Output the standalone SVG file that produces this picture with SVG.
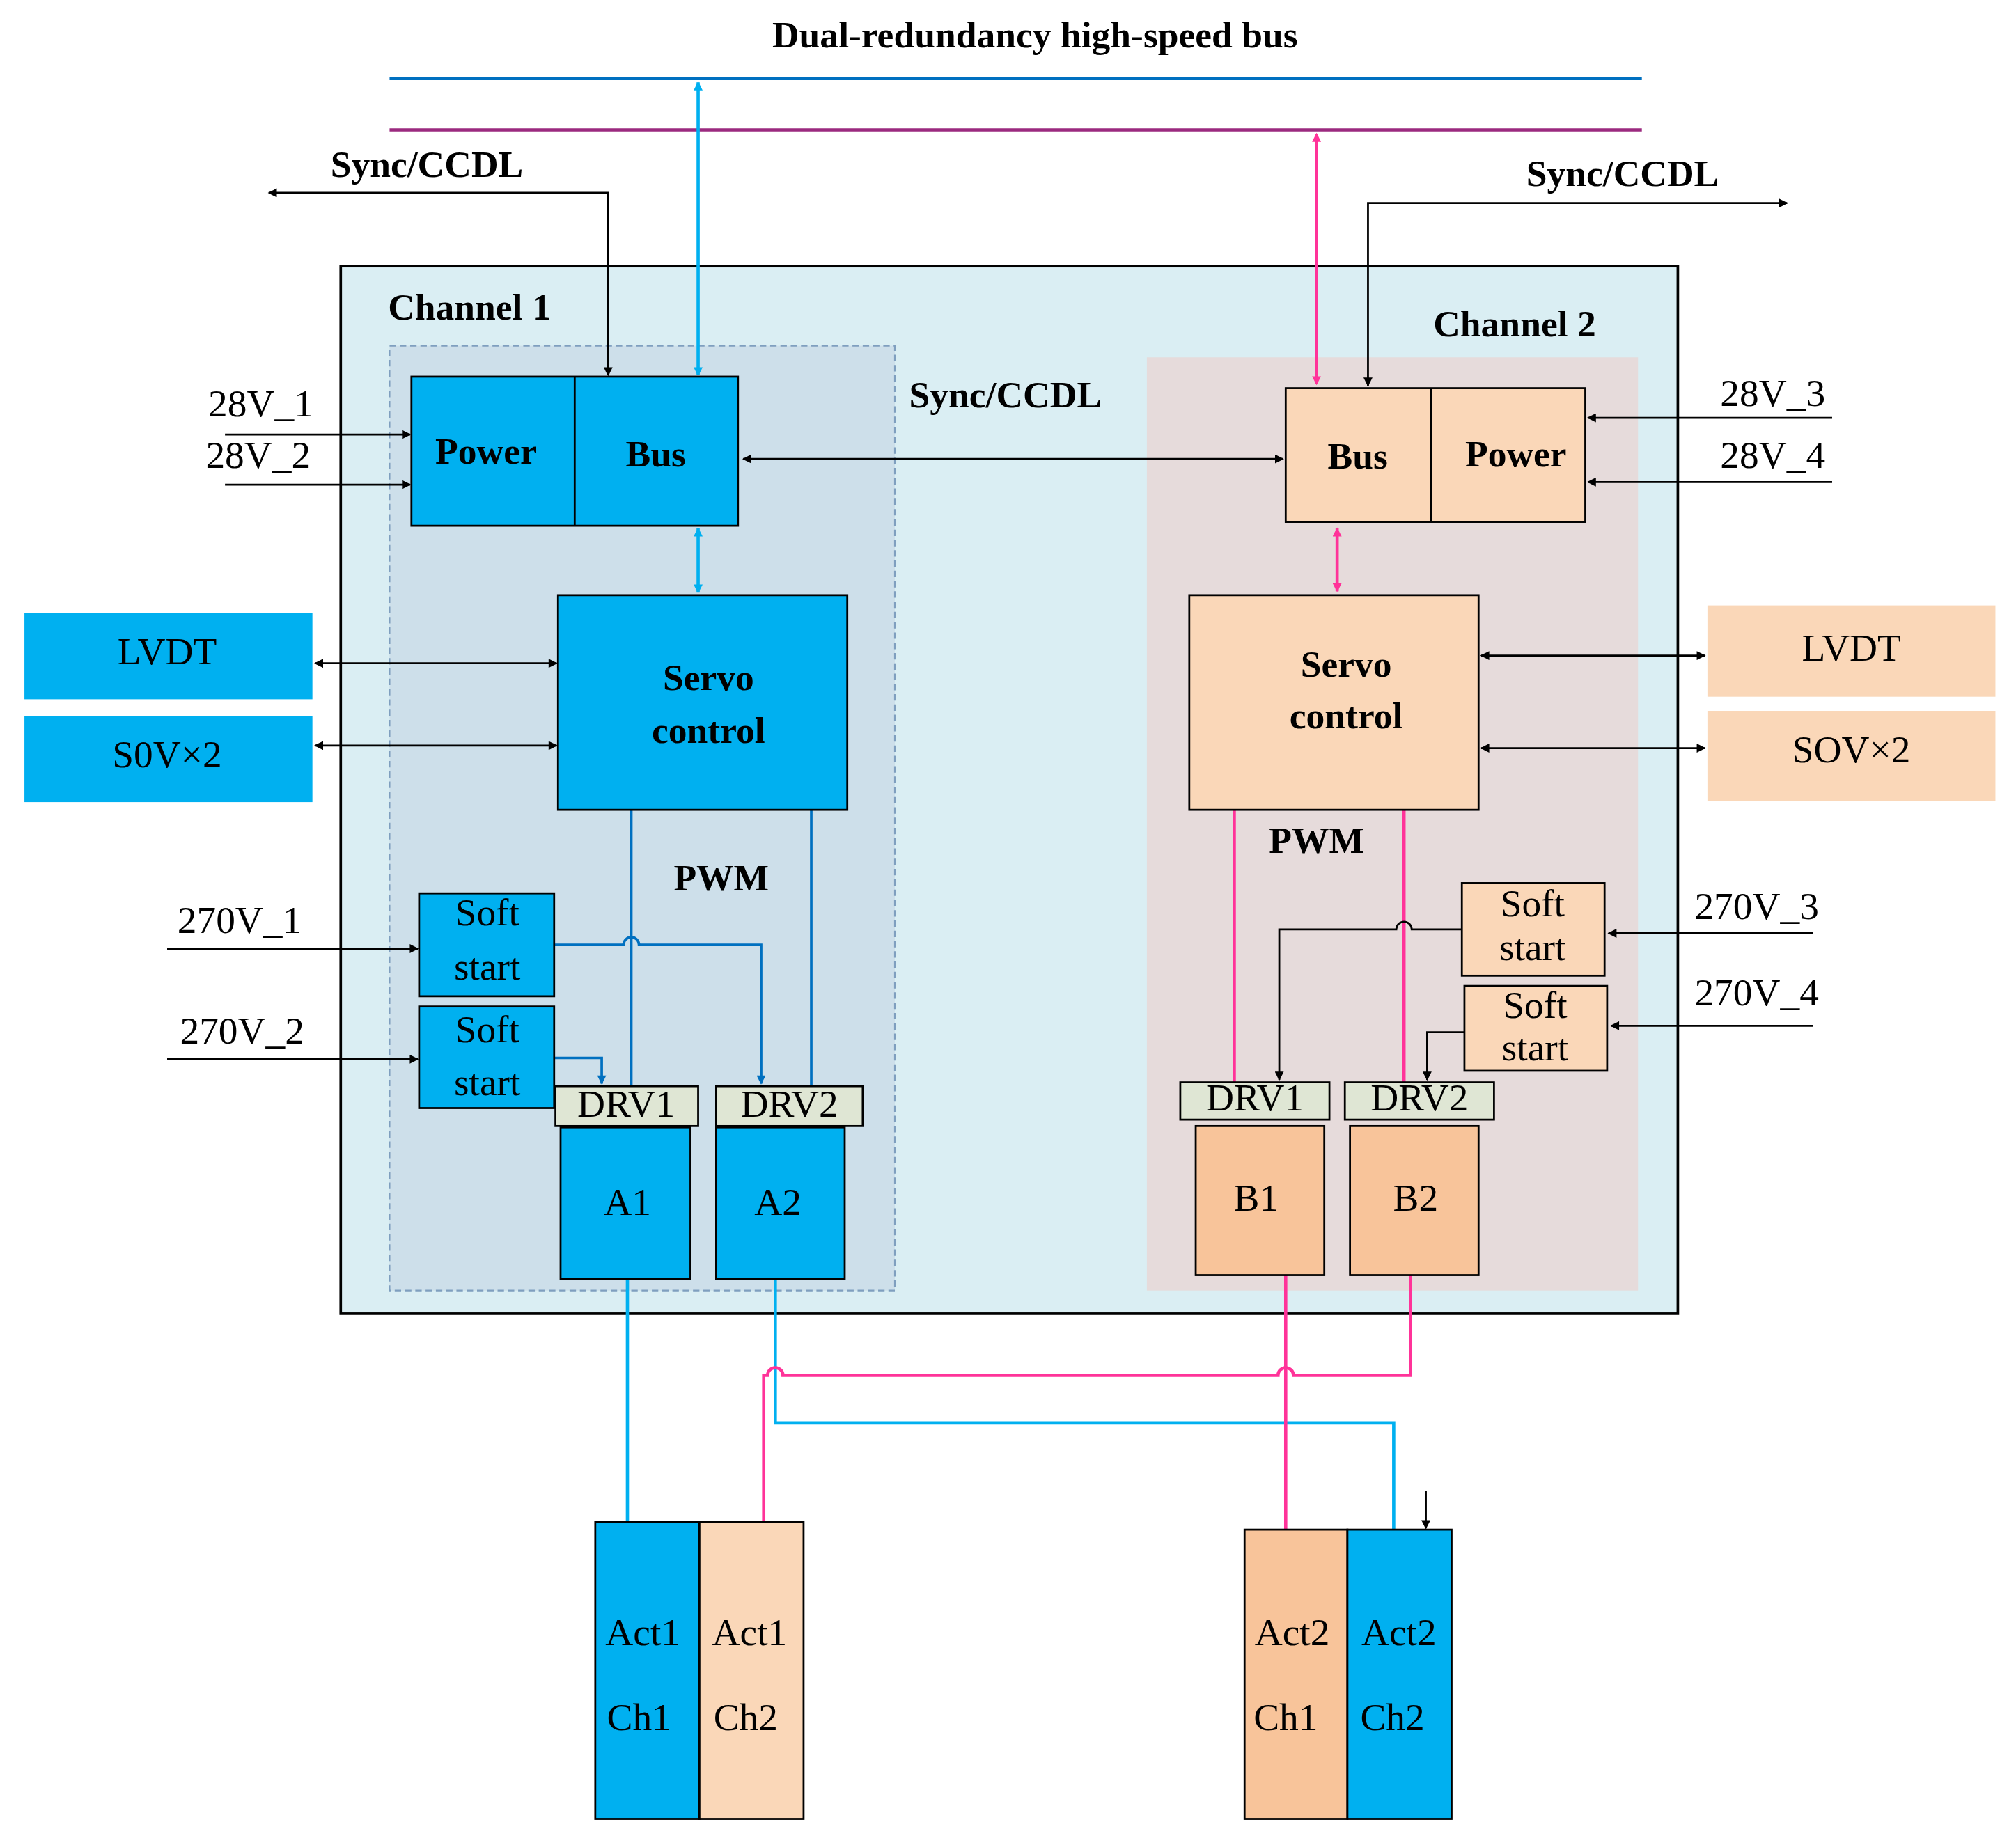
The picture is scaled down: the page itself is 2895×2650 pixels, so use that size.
<svg xmlns="http://www.w3.org/2000/svg" width="2895" height="2650" viewBox="0 0 2895 2650">
<defs>
<marker id="ak" viewBox="0 0 10 10" refX="9" refY="5" markerWidth="9" markerHeight="7" orient="auto-start-reverse" markerUnits="userSpaceOnUse"><path d="M0,0L10,5L0,10z" fill="#000"/></marker>
<marker id="ab" viewBox="0 0 10 10" refX="9" refY="5" markerWidth="9" markerHeight="7" orient="auto-start-reverse" markerUnits="userSpaceOnUse"><path d="M0,0L10,5L0,10z" fill="#00b0f0"/></marker>
<marker id="ad" viewBox="0 0 10 10" refX="9" refY="5" markerWidth="9" markerHeight="7" orient="auto-start-reverse" markerUnits="userSpaceOnUse"><path d="M0,0L10,5L0,10z" fill="#0070c0"/></marker>
<marker id="ap" viewBox="0 0 10 10" refX="9" refY="5" markerWidth="9" markerHeight="7" orient="auto-start-reverse" markerUnits="userSpaceOnUse"><path d="M0,0L10,5L0,10z" fill="#ff3399"/></marker>
</defs>
<style>
text{font-family:"Liberation Serif","Times New Roman",serif;font-size:30px;fill:#000;text-anchor:middle;dominant-baseline:middle}
.b{font-weight:bold;font-size:29px}
.l{text-anchor:start}
.blue{fill:#00b0f0;stroke:#000;stroke-width:1.5}
.peach{fill:#fad7b8;stroke:#000;stroke-width:1.5}
.peach2{fill:#f8c49a;stroke:#000;stroke-width:1.5}
.drv{fill:#dfe6d4;stroke:#000;stroke-width:1.5}
.k{stroke:#000;stroke-width:1.5;fill:none}
.cb{stroke:#00b0f0;stroke-width:2.5;fill:none}
.cd{stroke:#0070c0;stroke-width:2;fill:none}
.cp{stroke:#ff3399;stroke-width:2.5;fill:none}
</style>
<rect width="2895" height="2650" fill="#fff"/>
<g transform="scale(1.8463)">
<g id="frame">
<rect x="265" y="207" width="1040" height="815" fill="#daeef3" stroke="#000" stroke-width="2"/>
<rect x="303" y="269" width="393" height="735" fill="#cddfea" stroke="#7f9fbf" stroke-width="1.2" stroke-dasharray="5,3"/>
<rect x="892" y="278" width="382" height="726" fill="#e6dbdb"/>
<text x="805" y="30" class="b">Dual-redundancy high-speed bus</text>
<text x="365" y="242" class="b">Channel 1</text>
<text x="1178" y="255" class="b">Channel 2</text>
<line x1="303" y1="61" x2="1277" y2="61" stroke="#0070c0" stroke-width="2.5"/>
<line x1="303" y1="101" x2="1277" y2="101" stroke="#9b2a7f" stroke-width="2.5"/>
</g>
<g id="connectors">
<line x1="543" y1="64" x2="543" y2="292" class="cb" marker-start="url(#ab)" marker-end="url(#ab)"/>
<line x1="1024" y1="104" x2="1024" y2="299" class="cp" marker-start="url(#ap)" marker-end="url(#ap)"/>
<path d="M209,150H473V292" class="k" marker-start="url(#ak)" marker-end="url(#ak)"/>
<path d="M1064,300V158H1390" class="k" marker-start="url(#ak)" marker-end="url(#ak)"/>
<line x1="578" y1="357" x2="998" y2="357" class="k" marker-start="url(#ak)" marker-end="url(#ak)"/>
<line x1="175" y1="338" x2="319" y2="338" class="k" marker-end="url(#ak)"/>
<line x1="175" y1="377" x2="319" y2="377" class="k" marker-end="url(#ak)"/>
<line x1="1425" y1="325" x2="1235" y2="325" class="k" marker-end="url(#ak)"/>
<line x1="1425" y1="375" x2="1235" y2="375" class="k" marker-end="url(#ak)"/>
<line x1="543" y1="411" x2="543" y2="461" class="cb" marker-start="url(#ab)" marker-end="url(#ab)"/>
<line x1="1040" y1="411" x2="1040" y2="460" class="cp" marker-start="url(#ap)" marker-end="url(#ap)"/>
<line x1="245" y1="516" x2="433" y2="516" class="k" marker-start="url(#ak)" marker-end="url(#ak)"/>
<line x1="245" y1="580" x2="433" y2="580" class="k" marker-start="url(#ak)" marker-end="url(#ak)"/>
<line x1="1152" y1="510" x2="1326" y2="510" class="k" marker-start="url(#ak)" marker-end="url(#ak)"/>
<line x1="1152" y1="582" x2="1326" y2="582" class="k" marker-start="url(#ak)" marker-end="url(#ak)"/>
<line x1="491" y1="630" x2="491" y2="845" class="cd"/>
<line x1="631" y1="630" x2="631" y2="845" class="cd"/>
<path d="M431,735H485A6,6 0 0 1 497,735H592V843" class="cd" marker-end="url(#ad)"/>
<path d="M431,823H468V843" class="cd" marker-end="url(#ad)"/>
<line x1="130" y1="738" x2="325" y2="738" class="k" marker-end="url(#ak)"/>
<line x1="130" y1="824" x2="325" y2="824" class="k" marker-end="url(#ak)"/>
<line x1="960" y1="630" x2="960" y2="842" class="cp"/>
<line x1="1092" y1="630" x2="1092" y2="842" class="cp"/>
<path d="M1137,723H1098A6,6 0 0 0 1086,723H995V840" class="k" marker-end="url(#ak)"/>
<path d="M1139,803H1110V840" class="k" marker-end="url(#ak)"/>
<line x1="1410" y1="726" x2="1251" y2="726" class="k" marker-end="url(#ak)"/>
<line x1="1410" y1="798" x2="1253" y2="798" class="k" marker-end="url(#ak)"/>
<line x1="488" y1="995" x2="488" y2="1184" class="cb"/>
<path d="M603,995V1107H1084V1190" class="cb"/>
<path d="M1097,992V1070H1006A6,6 0 0 0 994,1070H609A6,6 0 0 0 597,1070H594V1184" class="cp"/>
<line x1="1000" y1="992" x2="1000" y2="1190" class="cp"/>
<line x1="1109" y1="1160" x2="1109" y2="1189" class="k" marker-end="url(#ak)"/>
</g>
<g id="ch1-powerbus">
<rect x="320" y="293" width="254" height="116" class="blue" stroke-width="2"/>
<line x1="447" y1="293" x2="447" y2="409" stroke="#000" stroke-width="1.5"/>
<text x="378" y="354" class="b">Power</text><text x="510" y="356" class="b">Bus</text>
</g>
<g id="ch2-buspower">
<rect x="1000" y="302" width="233" height="104" class="peach" stroke-width="2"/>
<line x1="1113" y1="302" x2="1113" y2="406" stroke="#000" stroke-width="1.5"/>
<text x="1056" y="358" class="b">Bus</text><text x="1179" y="356" class="b">Power</text>
</g>
<g id="labels">
<text x="162" y="317" class="l">28V_1</text><text x="160" y="357" class="l">28V_2</text>
<text x="1338" y="309" class="l">28V_3</text><text x="1338" y="357" class="l">28V_4</text>
<text x="782" y="310" class="b">Sync/CCDL</text>
<text x="332" y="131" class="b">Sync/CCDL</text>
<text x="1262" y="138" class="b">Sync/CCDL</text>
<text x="561" y="686" class="b">PWM</text><text x="1024" y="657" class="b">PWM</text>
<text x="138" y="719" class="l">270V_1</text><text x="140" y="805" class="l">270V_2</text>
<text x="1318" y="708" class="l">270V_3</text><text x="1318" y="775" class="l">270V_4</text>
</g>
<g id="servo1"><rect x="434" y="463" width="225" height="167" class="blue" stroke-width="2"/><text x="551" y="530" class="b">Servo</text><text x="551" y="571" class="b">control</text></g>
<g id="servo2"><rect x="925" y="463" width="225" height="167" class="peach" stroke-width="2"/><text x="1047" y="520" class="b">Servo</text><text x="1047" y="560" class="b">control</text></g>
<g id="lvdt1"><rect x="19" y="477" width="224" height="67" fill="#00b0f0"/><text x="130" y="510">LVDT</text></g>
<g id="sov1"><rect x="19" y="557" width="224" height="67" fill="#00b0f0"/><text x="130" y="590">S0V×2</text></g>
<g id="lvdt2"><rect x="1328" y="471" width="224" height="71" fill="#fad7b8"/><text x="1440" y="507">LVDT</text></g>
<g id="sov2"><rect x="1328" y="553" width="224" height="70" fill="#fad7b8"/><text x="1440" y="586">SOV×2</text></g>
<g id="ss1"><rect x="326" y="695" width="105" height="80" class="blue"/><text x="379" y="713">Soft</text><text x="379" y="755">start</text></g>
<g id="ss2"><rect x="326" y="783" width="105" height="79" class="blue"/><text x="379" y="804">Soft</text><text x="379" y="845">start</text></g>
<g id="ss3"><rect x="1137" y="687" width="111" height="72" class="peach"/><text x="1192" y="706">Soft</text><text x="1192" y="740">start</text></g>
<g id="ss4"><rect x="1139" y="767" width="111" height="66" class="peach"/><text x="1194" y="785">Soft</text><text x="1194" y="818">start</text></g>
<g id="drv1a"><rect x="432" y="845" width="111" height="31" class="drv"/><text x="487" y="862">DRV1</text></g>
<g id="drv2a"><rect x="557" y="845" width="114" height="31" class="drv"/><text x="614" y="862">DRV2</text></g>
<g id="drv1b"><rect x="918" y="842" width="116" height="29" class="drv"/><text x="976" y="857">DRV1</text></g>
<g id="drv2b"><rect x="1046" y="842" width="116" height="29" class="drv"/><text x="1104" y="857">DRV2</text></g>
<g id="A1"><rect x="436" y="877" width="101" height="118" class="blue"/><text x="488" y="938">A1</text></g>
<g id="A2"><rect x="557" y="877" width="100" height="118" class="blue"/><text x="605" y="938">A2</text></g>
<g id="B1"><rect x="930" y="876" width="100" height="116" class="peach2"/><text x="977" y="935">B1</text></g>
<g id="B2"><rect x="1050" y="876" width="100" height="116" class="peach2"/><text x="1101" y="935">B2</text></g>
<g id="act1"><rect x="463" y="1184" width="81" height="231" class="blue"/><rect x="544" y="1184" width="81" height="231" class="peach"/>
<text x="500" y="1273">Act1</text><text x="497" y="1339">Ch1</text><text x="583" y="1273">Act1</text><text x="580" y="1339">Ch2</text></g>
<g id="act2"><rect x="968" y="1190" width="80" height="225" class="peach2"/><rect x="1048" y="1190" width="81" height="225" class="blue"/>
<text x="1005" y="1273">Act2</text><text x="1000" y="1339">Ch1</text><text x="1088" y="1273">Act2</text><text x="1083" y="1339">Ch2</text></g>
</g>
</svg>
